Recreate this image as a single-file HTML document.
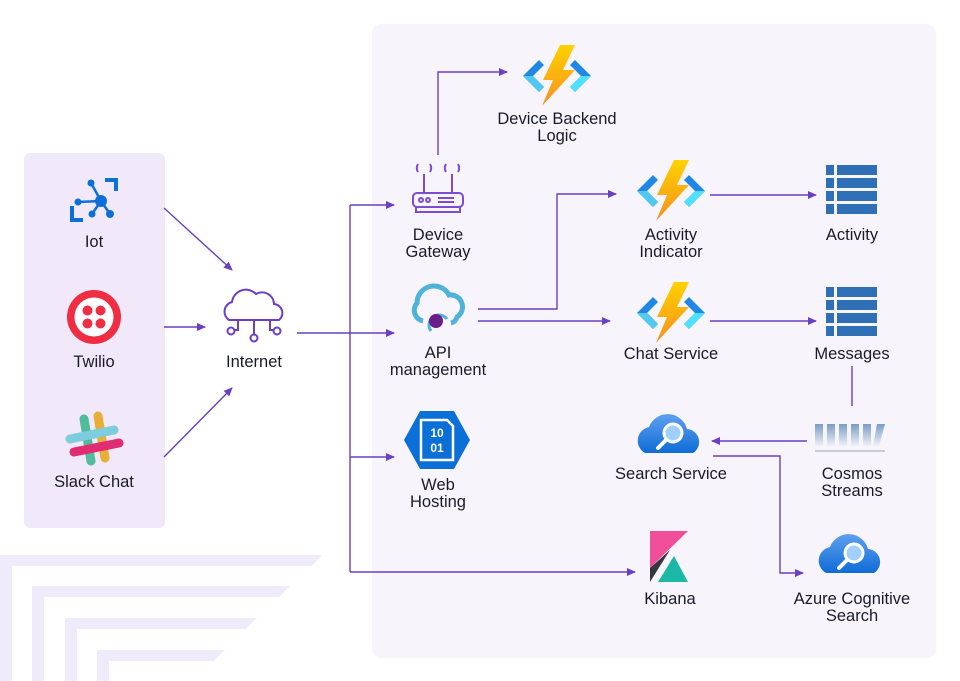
<!DOCTYPE html>
<html><head><meta charset="utf-8"><style>
html,body{margin:0;padding:0;background:#fff;}
svg{display:block;}
text{font-family:"Liberation Sans",sans-serif;font-size:16.5px;fill:#1a1a2a;text-anchor:middle;}
</style></head><body>
<svg width="960" height="681" viewBox="0 0 960 681" xmlns="http://www.w3.org/2000/svg">
<defs>
<marker id="a" markerWidth="10" markerHeight="10" refX="8" refY="5" orient="auto" markerUnits="userSpaceOnUse"><path d="M0,1 L9,5 L0,9 Z" fill="#6a3fc4"/></marker>
<linearGradient id="bolt" x1="0" y1="0" x2="0" y2="1"><stop offset="0" stop-color="#ffd200"/><stop offset="1" stop-color="#f7901e"/></linearGradient>
<linearGradient id="srch" x1="0" y1="0" x2="0" y2="1"><stop offset="0" stop-color="#5ea0ef"/><stop offset="1" stop-color="#0f6cd6"/></linearGradient>
<linearGradient id="cos" x1="0" y1="0" x2="0" y2="1"><stop offset="0" stop-color="#7a9cc6"/><stop offset="1" stop-color="#eef2f8"/></linearGradient>
<g id="func">
<path d="M-34,0 L-18,-16 L-13,-11 L-24,0 L-13,11 L-18,16 Z" fill="#1f88e5"/>
<path d="M-34,0 L-18,16 L-13,11 L-24,0 Z" fill="#50c8f0"/>
<path d="M34,0 L18,-16 L13,-11 L24,0 L13,11 L18,16 Z" fill="#1f88e5"/>
<path d="M34,0 L18,16 L13,11 L24,0 Z" fill="#50e0ff"/>
<path d="M3,-31 L18,-31 L6,-6 L18,-6 L-15,30 L-4,4 L-14,4 Z" fill="url(#bolt)"/>
</g>
<g id="tbl">
<rect x="-26" y="-26" width="8" height="10" fill="#2f6fb5"/><rect x="-15" y="-26" width="40" height="10" fill="#2f6fb5"/>
<rect x="-26" y="-13" width="8" height="10" fill="#2f6fb5"/><rect x="-15" y="-13" width="40" height="10" fill="#2f6fb5"/>
<rect x="-26" y="0" width="8" height="10" fill="#2f6fb5"/><rect x="-15" y="0" width="40" height="10" fill="#2f6fb5"/>
<rect x="-26" y="13" width="8" height="10" fill="#2f6fb5"/><rect x="-15" y="13" width="40" height="10" fill="#2f6fb5"/>
</g>
<g id="scloud">
<path d="M-26,16 A14,14 0 0 1 -22,-10 A20,20 0 0 1 16,-8 A13,13 0 0 1 22,16 Z" fill="url(#srch)"/>
<circle cx="2" cy="-4" r="9" fill="#9fd0ff" stroke="#fff" stroke-width="3"/>
<line x1="-5" y1="3" x2="-13" y2="11" stroke="#fff" stroke-width="4" stroke-linecap="round"/>
</g>
</defs>

<g fill="#f0ebfa">
<path d="M0,555 L322,555 L312,566 L12,566 L12,681 L0,681 Z"/>
<path d="M32,586 L290,586 L279,597 L44,597 L44,681 L32,681 Z"/>
<path d="M65,618 L257,618 L246,629 L77,629 L77,681 L65,681 Z"/>
<path d="M97,650 L225,650 L214,661 L109,661 L109,681 L97,681 Z"/>
</g>

<rect x="372" y="24" width="564" height="634" rx="9" fill="#f7f5fb"/>
<rect x="24" y="153" width="141" height="375" rx="6" fill="#f1e9fa"/>

<g stroke="#6a3fc4" stroke-width="1.4" fill="none">
<line x1="164" y1="208" x2="232" y2="270" marker-end="url(#a)"/>
<line x1="164" y1="327" x2="205" y2="327" marker-end="url(#a)"/>
<line x1="164" y1="457" x2="232" y2="388" marker-end="url(#a)"/>
<polyline points="297,333 350,333"/>
<polyline points="350,205 350,572"/>
<line x1="350" y1="205" x2="394" y2="205" marker-end="url(#a)"/>
<line x1="350" y1="333" x2="394" y2="333" marker-end="url(#a)"/>
<line x1="350" y1="457" x2="394" y2="457" marker-end="url(#a)"/>
<line x1="350" y1="572" x2="635" y2="572" marker-end="url(#a)"/>
<polyline points="438,155 438,72 507,72" marker-end="url(#a)"/>
<polyline points="478,309 557,309 557,194 616,194" marker-end="url(#a)"/>
<line x1="478" y1="321" x2="610" y2="321" marker-end="url(#a)"/>
<line x1="710" y1="195" x2="816" y2="195" marker-end="url(#a)"/>
<line x1="710" y1="321" x2="816" y2="321" marker-end="url(#a)"/>
<line x1="852" y1="366" x2="852" y2="406"/>
<line x1="807" y1="441" x2="712" y2="441" marker-end="url(#a)"/>
<polyline points="713,456 780,456 780,573 803,573" marker-end="url(#a)"/>
</g>

<g transform="translate(94,200)">
<path d="M-24,6 L-24,22 L-11,22 L-11,18 L-20,18 L-20,6 Z" fill="#0b6fd8"/>
<path d="M24,-22 L24,-9 L20,-9 L20,-18 L11,-18 L11,-22 Z" fill="#0b6fd8"/>
<g stroke="#0b6fd8" stroke-width="2.5"><line x1="7" y1="1" x2="-16" y2="2"/><line x1="7" y1="1" x2="-3" y2="-17"/><line x1="7" y1="1" x2="16" y2="14"/><line x1="7" y1="1" x2="-2" y2="14"/></g>
<g fill="#0b6fd8"><circle cx="7" cy="1" r="6"/><circle cx="-16" cy="2" r="3.5"/><circle cx="-3" cy="-17" r="3.5"/><circle cx="16" cy="14" r="4"/><circle cx="-2" cy="14" r="3.5"/></g>
</g>
<text x="94" y="247">Iot</text>
<g transform="translate(94,317)">
<circle r="27" fill="#ef2d43"/><circle r="19.5" fill="#fff"/>
<g fill="#ef2d43"><circle cx="-6.5" cy="-6.5" r="5"/><circle cx="6.5" cy="-6.5" r="5"/><circle cx="-6.5" cy="6.5" r="5"/><circle cx="6.5" cy="6.5" r="5"/></g>
</g>
<text x="94" y="367">Twilio</text>
<g transform="translate(94,438)" stroke-linecap="round" stroke-width="9" opacity="0.9">
<line x1="-10" y1="-19" x2="-3" y2="23" stroke="#3eb991"/>
<line x1="4" y1="-22" x2="11" y2="20" stroke="#e9a820"/>
<line x1="-24" y1="1" x2="20" y2="-8" stroke="#70cadb"/>
<line x1="-20" y1="14" x2="25" y2="5" stroke="#e01765"/>
</g>
<text x="94" y="487">Slack Chat</text>
<g transform="translate(254,312)" stroke="#6a3fc4" stroke-width="2" fill="none">
<path d="M-25,8 A10,10 0 0 1 -22,-10 A14,14 0 0 1 2,-18 A12,12 0 0 1 20,-8 A9,9 0 0 1 25,8 Z"/>
<path d="M-16,8 L-16,18 L-20,18 M0,8 L0,22 M16,8 L16,18 L20,18"/>
<circle cx="-23" cy="19" r="3.5"/><circle cx="0" cy="26" r="3.5"/><circle cx="23" cy="19" r="3.5"/>
</g>
<text x="254" y="367">Internet</text>

<use href="#func" transform="translate(557,76)"/>
<text x="557" y="124">Device Backend</text><text x="557" y="141">Logic</text>

<g transform="translate(438,190)" stroke="#7c4dd0" stroke-width="2" fill="none">
<rect x="-25" y="3" width="50" height="14" rx="4"/><line x1="-21" y1="17" x2="21" y2="17"/><path d="M-22,17 L-22,22 L22,22 L22,17"/>
<line x1="-14" y1="3" x2="-14" y2="-16"/><line x1="14" y1="3" x2="14" y2="-16"/>
<circle cx="-17" cy="10" r="2"/><circle cx="-10" cy="10" r="2"/><line x1="0" y1="8" x2="16" y2="8"/><line x1="0" y1="12" x2="16" y2="12"/>
<path d="M-20,-18 A8,8 0 0 1 -20,-26 M-8,-18 A8,8 0 0 0 -8,-26 M8,-18 A8,8 0 0 1 8,-26 M20,-18 A8,8 0 0 0 20,-26"/>
</g>
<text x="438" y="240">Device</text><text x="438" y="257">Gateway</text>

<g transform="translate(437,311)">
<path d="M-14,10 A11,11 0 0 1 -20,-8 A17,17 0 0 1 12,-16 A12,12 0 0 1 20,6 A8,8 0 0 1 14,12" fill="none" stroke="#4fb2d8" stroke-width="5"/>
<path d="M-6,20 A10,10 0 1 1 10,8" fill="none" stroke="#4fb2d8" stroke-width="3"/>
<circle cx="-1" cy="10" r="7" fill="#6a1e8a"/>
</g>
<text x="438" y="358">API</text><text x="438" y="375">management</text>

<g transform="translate(437,440)">
<path d="M-17,-29 L17,-29 L33,0 L17,29 L-17,29 L-33,0 Z" fill="#0b6fd8"/>
<path d="M-16,-20 L10,-20 L16,-14 L16,20 L-16,20 Z" fill="none" stroke="#fff" stroke-width="2.5"/>
<text x="0" y="-3" style="font-size:12px;font-weight:bold;fill:#fff">10</text>
<text x="0" y="12" style="font-size:12px;font-weight:bold;fill:#fff">01</text>
</g>
<text x="438" y="490">Web</text><text x="438" y="507">Hosting</text>

<use href="#func" transform="translate(671,191)"/>
<text x="671" y="240">Activity</text><text x="671" y="257">Indicator</text>
<use href="#func" transform="translate(671,313)"/>
<text x="671" y="359">Chat Service</text>

<use href="#tbl" transform="translate(852,191)"/>
<text x="852" y="240">Activity</text>
<use href="#tbl" transform="translate(852,313)"/>
<text x="852" y="359">Messages</text>

<use href="#scloud" transform="translate(671,437)"/>
<text x="671" y="479">Search Service</text>
<g transform="translate(850,438)">
<rect x="-35" y="-14" width="8" height="22" fill="url(#cos)"/><rect x="-23" y="-14" width="8" height="22" fill="url(#cos)"/>
<rect x="-11" y="-14" width="8" height="22" fill="url(#cos)"/><rect x="1" y="-14" width="8" height="22" fill="url(#cos)"/>
<rect x="13" y="-14" width="8" height="22" fill="url(#cos)"/><path d="M27,-14 L35,-14 L29,8 L23,8 Z" fill="url(#cos)"/>
<rect x="-35" y="12" width="70" height="2" fill="#c8ccd6"/>
</g>
<text x="852" y="479">Cosmos</text><text x="852" y="496">Streams</text>

<g transform="translate(668,556)">
<path d="M-18,-25 L20,-25 L-18,12 Z" fill="#f04e98"/>
<path d="M-18,12 L2,-6 L-18,26 Z" fill="#343741"/>
<path d="M-10,26 L6,0 L20,26 Z" fill="#1bb9a5"/>
</g>
<text x="670" y="604">Kibana</text>

<use href="#scloud" transform="translate(852,557)"/>
<text x="852" y="604">Azure Cognitive</text><text x="852" y="621">Search</text>
</svg>
</body></html>
